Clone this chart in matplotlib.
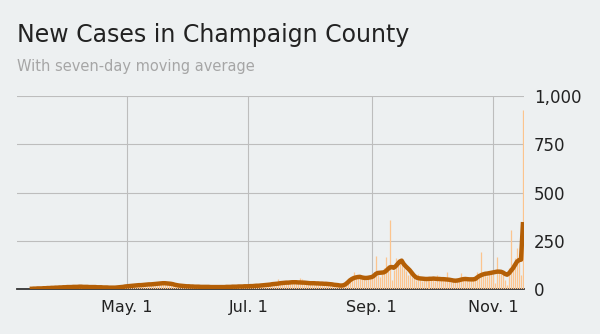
import numpy as np
import pandas as pd
import matplotlib
matplotlib.use('Agg')
import matplotlib.pyplot as plt
import matplotlib.dates as mdates
from matplotlib.ticker import FuncFormatter

# daily new cases, starting 2020-03-13
start = '2020-03-13'
cases_mar = [1, 0, 2, 3, 1, 4, 2, 5, 3, 6, 4, 8, 5, 9, 6, 10, 7, 11, 8]
cases_apr = [12, 9, 11, 14, 8, 10, 15, 13, 9, 12, 11, 8, 13, 10, 9, 11, 7, 10, 8, 6,
             9, 7, 8, 5, 9, 6, 10, 12, 9, 15]
cases_may = [16, 12, 18, 14, 22, 17, 20, 25, 19, 23, 28, 21, 26, 24, 30, 27, 33, 29, 35, 31,
             28, 25, 30, 22, 20, 16, 19, 15, 14, 17, 12]
cases_jun = [15, 11, 14, 10, 13, 12, 9, 14, 11, 10, 13, 8, 12, 9, 11, 10, 12, 7, 11, 13,
             9, 12, 14, 10, 13, 15, 11, 16, 14, 12]
cases_jul = [17, 13, 16, 19, 14, 18, 22, 16, 24, 20, 25, 21, 30, 24, 28, 50, 27, 35, 31, 29,
             38, 33, 40, 36, 34, 37, 55, 50, 34, 28, 33]
cases_aug = [29, 31, 26, 35, 28, 33, 25, 30, 27, 32, 24, 28, 22, 26, 19, 21, 15, 18, 24, 30,
             42, 50, 90, 58, 66, 70, 55, 62, 48, 64, 58]
cases_sep = [70, 85, 171, 75, 60, 80, 110, 166, 95, 357, 47, 100, 160, 124, 141, 130, 109, 95, 72, 88,
             60, 55, 48, 78, 50, 40, 45, 62, 55, 50]
cases_oct = [58, 45, 40, 72, 55, 48, 52, 60, 90, 45, 38, 40, 35, 50, 42, 85, 55, 50, 45, 40,
             58, 62, 50, 90, 55, 193, 70, 80, 65, 95, 88]
cases_nov = [70, 30, 167, 98, 78, 90, 45, 20, 110, 306, 130, 160, 212, 165, 72, 927]

# seven-day moving average
avg_mar = [1, 1, 2, 2, 3, 3, 3, 4, 4, 5, 5, 6, 6, 7, 7, 8, 8, 9, 9]
avg_apr = [10, 10, 10, 11, 11, 11, 12, 12, 11, 11, 11, 10, 10, 10, 10, 9, 9, 9, 8, 8,
           8, 7, 7, 7, 7, 8, 9, 10, 11, 13]
avg_may = [14, 15, 16, 17, 18, 19, 20, 20, 21, 22, 23, 24, 24, 25, 26, 27, 28, 29, 30, 30,
           29, 28, 27, 25, 22, 20, 18, 17, 16, 15, 14]
avg_jun = [14, 13, 13, 12, 12, 12, 11, 11, 11, 11, 11, 10, 10, 10, 10, 10, 10, 10, 10, 11,
           11, 11, 12, 12, 12, 13, 13, 13, 14, 14]
avg_jul = [14, 15, 15, 16, 17, 17, 18, 19, 20, 21, 22, 23, 25, 26, 27, 28, 30, 31, 32, 33,
           33, 34, 35, 35, 35, 34, 34, 33, 33, 32, 31]
avg_aug = [30, 30, 30, 29, 29, 28, 28, 27, 27, 26, 25, 24, 22, 21, 20, 18, 18, 20, 26, 35,
           45, 52, 57, 60, 62, 63, 60, 58, 57, 58, 60]
avg_sep = [62, 68, 78, 83, 84, 85, 86, 92, 102, 112, 114, 110, 118, 130, 142, 147, 130, 118, 108, 98,
           85, 72, 62, 57, 55, 54, 53, 52, 52, 53]
avg_oct = [53, 54, 53, 52, 52, 51, 51, 50, 49, 48, 46, 44, 43, 44, 46, 49, 51, 52, 51, 50,
           50, 50, 52, 60, 67, 72, 76, 79, 80, 82, 84]
avg_nov = [86, 88, 90, 90, 89, 85, 78, 74, 82, 95, 108, 125, 142, 150, 152, 347]

tick_dates = ['2020-05-01', '2020-07-01', '2020-09-01', '2020-11-01']
tick_labels = ['May. 1', 'Jul. 1', 'Sep. 1', 'Nov. 1']
y_ticks = [0, 250, 500, 750, 1000]

cases = cases_mar + cases_apr + cases_may + cases_jun + cases_jul + cases_aug + cases_sep + cases_oct + cases_nov
avg = avg_mar + avg_apr + avg_may + avg_jun + avg_jul + avg_aug + avg_sep + avg_oct + avg_nov
dates = pd.date_range(start, periods=len(cases), freq='D')

bg = '#edf0f1'
fig = plt.figure(figsize=(6, 3.34), dpi=100, facecolor=bg)
ax = fig.add_axes([17/600, 45/334, 507/600, 193/334], facecolor=bg)

# daily bars as 1px strokes
ax.vlines(dates, 0, cases, color='#fcc48e', lw=0.9, zorder=2)
ax.plot(dates, avg, color='#b45f06', lw=3.2, zorder=3, solid_capstyle='butt')

ax.set_ylim(0, 1000)
ax.set_xlim(pd.Timestamp('2020-03-06 16:00'), pd.Timestamp('2020-11-16 12:00'))
ax.set_yticks(y_ticks)
ax.yaxis.set_major_formatter(FuncFormatter(lambda v, p: '{:,.0f}'.format(v)))
ax.yaxis.tick_right()
ax.set_xticks([pd.Timestamp(d) for d in tick_dates])
ax.set_xticklabels(tick_labels)
ax.tick_params(axis='y', length=0, pad=7, labelsize=12, labelcolor='#222222')
ax.tick_params(axis='x', length=0, pad=8, labelsize=11.5, labelcolor='#222222')
ax.grid(True, color='#bdbdbd', lw=0.8, zorder=0)
ax.set_axisbelow(True)
for s in ['top', 'left', 'right']:
    ax.spines[s].set_visible(False)
ax.spines['bottom'].set_color('#333333')
ax.spines['bottom'].set_linewidth(1.3)
ax.spines['bottom'].set_zorder(1)

fig.text(17/600, 1 - 42/334, 'New Cases in Champaign County', fontsize=17,
         color='#222222', va='baseline', ha='left')
fig.text(17/600, 1 - 71/334, 'With seven-day moving average', fontsize=10.5,
         color='#a6a6a6', va='baseline', ha='left')

fig.savefig('out.png', dpi=100, facecolor=bg)
